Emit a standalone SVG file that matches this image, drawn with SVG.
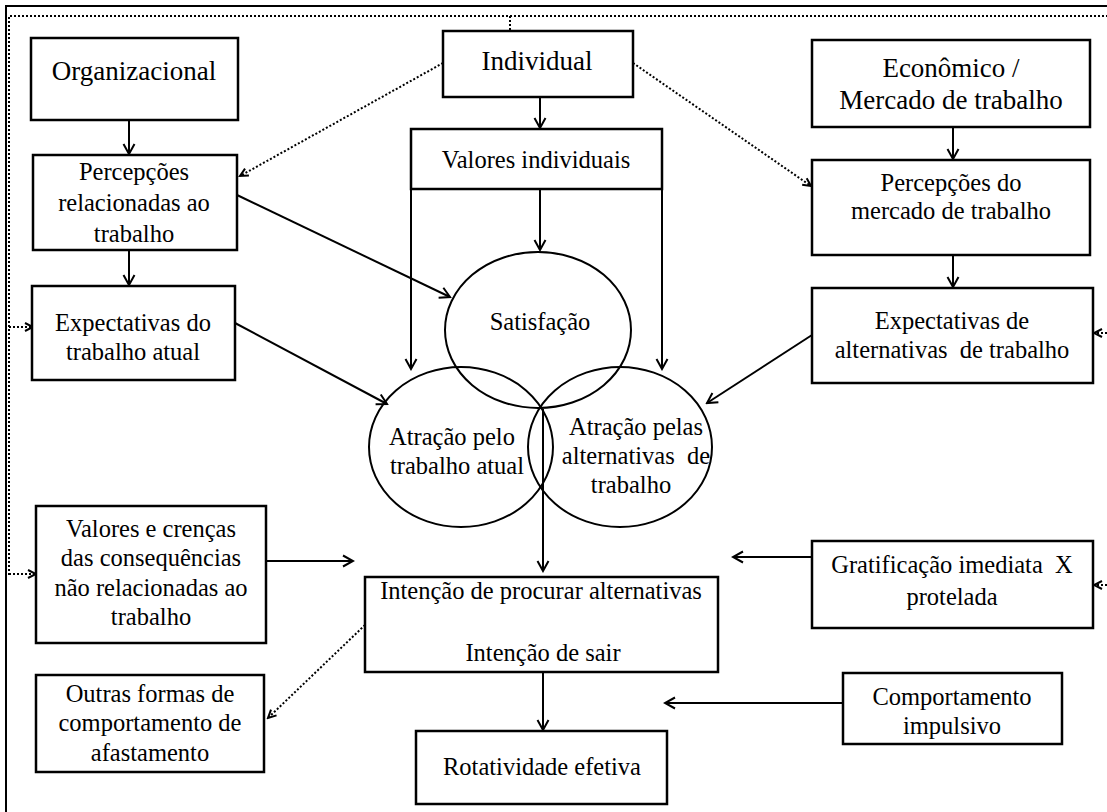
<svg xmlns="http://www.w3.org/2000/svg" width="1107" height="812" viewBox="0 0 1107 812">
  <defs>
    <marker id="arrow" markerUnits="userSpaceOnUse" markerWidth="14" markerHeight="14" viewBox="0 0 14 14" refX="12" refY="7" orient="auto">
      <path d="M2,1.5 L12,7 L2,12.5" fill="none" stroke="#000" stroke-width="2"/>
    </marker>
    <marker id="arrowSmall" markerUnits="userSpaceOnUse" markerWidth="12" markerHeight="12" viewBox="0 0 12 12" refX="10" refY="6" orient="auto">
      <path d="M2,2 L10,6 L2,10" fill="none" stroke="#000" stroke-width="2"/>
    </marker>
  </defs>
  <style>
    .box { fill: #fff; stroke: #000; stroke-width: 2.5; }
    .ell { fill: none; stroke: #000; stroke-width: 2; }
    .t { font-family: "Liberation Serif", "Times New Roman", serif; font-size: 24.5px; fill: #000; text-anchor: middle; }
    .big { font-size: 27px; }
    .line { fill: none; stroke: #000; stroke-width: 2; }
    .arr { fill: none; stroke: #000; stroke-width: 2; marker-end: url(#arrow); }
    .dot { fill: none; stroke: #000; stroke-width: 2; stroke-dasharray: 2 2; }
    .dotarr { fill: none; stroke: #000; stroke-width: 2; stroke-dasharray: 2 2; marker-end: url(#arrowSmall); }
  </style>
  <rect width="1107" height="812" fill="#fff"/>

  <!-- outer frame -->
  <g id="frame">
    <path class="line" d="M6,812 V6 H1107"/>
    <path class="dot" d="M9,575 V16 H1107"/>
  </g>

  <!-- connectors -->
  <g id="connectors">
    <path class="arr" d="M540,97 V128"/>
    <path class="arr" d="M129,120 V154"/>
    <path class="arr" d="M129,250 V285"/>
    <path class="arr" d="M953,127 V159"/>
    <path class="arr" d="M953,255 V287"/>
    <path class="arr" d="M540,189 V250"/>
    <path class="arr" d="M411,189 V369"/>
    <path class="arr" d="M662,189 V369"/>
    <path class="arr" d="M237,195 L450,297"/>
    <path class="arr" d="M235,323 L387,404"/>
    <path class="arr" d="M812,335 L707,403"/>
    <path class="arr" d="M543,409 V571"/>
    <path class="arr" d="M266,561 H353"/>
    <path class="arr" d="M812,557 H733"/>
    <path class="arr" d="M843,703 H665"/>
    <path class="arr" d="M543,672 V730"/>
    <!-- dotted influences -->
    <path class="dot" d="M510,16 V31"/>
    <path class="dotarr" d="M443,63 L240,176"/>
    <path class="dotarr" d="M633,63 L811,186"/>
    <path class="dotarr" d="M365,625 L268,718"/>
    <path class="dotarr" d="M9,327 H33"/>
    <path class="dotarr" d="M9,574 H36"/>
    <path class="dotarr" d="M1107,333 H1094"/>
    <path class="dotarr" d="M1107,585 H1094"/>
  </g>

  <g id="organizacional">
    <rect class="box" x="31" y="38" width="207" height="82"/>
    <text class="t big" x="134" y="80">Organizacional</text>
  </g>

  <g id="individual">
    <rect class="box" x="443" y="31" width="190" height="66"/>
    <text class="t big" x="537" y="70">Individual</text>
  </g>

  <g id="economico">
    <rect class="box" x="812" y="40" width="278" height="87"/>
    <text class="t big" x="951" y="77">Econômico /</text>
    <text class="t big" x="951" y="109">Mercado de trabalho</text>
  </g>

  <g id="percepcoes-trabalho">
    <rect class="box" x="33" y="155" width="204" height="95"/>
    <text class="t" x="134" y="180">Percepções</text>
    <text class="t" x="134" y="211">relacionadas ao</text>
    <text class="t" x="134" y="242">trabalho</text>
  </g>

  <g id="valores-individuais">
    <rect class="box" x="411" y="129" width="251" height="60"/>
    <text class="t" x="536" y="168">Valores individuais</text>
  </g>

  <g id="percepcoes-mercado">
    <rect class="box" x="812" y="160" width="278" height="95"/>
    <text class="t" x="951" y="191">Percepções do</text>
    <text class="t" x="951" y="219">mercado de trabalho</text>
  </g>

  <g id="expectativas-atual">
    <rect class="box" x="32" y="286" width="203" height="94"/>
    <text class="t" x="133" y="331">Expectativas do</text>
    <text class="t" x="133" y="360">trabalho atual</text>
  </g>

  <g id="expectativas-alternativas">
    <rect class="box" x="812" y="288" width="281" height="95"/>
    <text class="t" x="952" y="329">Expectativas de</text>
    <text class="t" x="952" y="358" xml:space="preserve">alternativas  de trabalho</text>
  </g>

  <g id="satisfacao">
    <ellipse class="ell" cx="538" cy="330" rx="93" ry="78"/>
    <text class="t" x="540" y="330">Satisfação</text>
  </g>

  <g id="atracao-atual">
    <ellipse class="ell" cx="461" cy="447" rx="92" ry="80"/>
    <text class="t" x="452" y="445">Atração pelo</text>
    <text class="t" x="457" y="474">trabalho atual</text>
  </g>

  <g id="atracao-alternativas">
    <ellipse class="ell" cx="620" cy="447" rx="92" ry="80"/>
    <text class="t" x="636" y="435">Atração pelas</text>
    <text class="t" x="636" y="464" xml:space="preserve">alternativas  de</text>
    <text class="t" x="631" y="493">trabalho</text>
  </g>

  <g id="valores-crencas">
    <rect class="box" x="36" y="506" width="230" height="137"/>
    <text class="t" x="151" y="537">Valores e crenças</text>
    <text class="t" x="151" y="566">das consequências</text>
    <text class="t" x="151" y="596">não relacionadas ao</text>
    <text class="t" x="151" y="625">trabalho</text>
  </g>

  <g id="intencao">
    <rect class="box" x="365" y="577" width="353" height="95"/>
    <text class="t" x="541" y="599">Intenção de procurar alternativas</text>
    <text class="t" x="543" y="661">Intenção de sair</text>
  </g>

  <g id="gratificacao">
    <rect class="box" x="812" y="541" width="281" height="87"/>
    <text class="t" x="952" y="573" xml:space="preserve">Gratificação imediata  X</text>
    <text class="t" x="952" y="605">protelada</text>
  </g>

  <g id="outras-formas">
    <rect class="box" x="36" y="675" width="228" height="97"/>
    <text class="t" x="150" y="702">Outras formas de</text>
    <text class="t" x="150" y="731">comportamento de</text>
    <text class="t" x="150" y="761">afastamento</text>
  </g>

  <g id="comportamento-impulsivo">
    <rect class="box" x="843" y="673" width="219" height="71"/>
    <text class="t" x="952" y="705">Comportamento</text>
    <text class="t" x="952" y="734">impulsivo</text>
  </g>

  <g id="rotatividade">
    <rect class="box" x="416" y="731" width="251" height="73"/>
    <text class="t" x="542" y="775">Rotatividade efetiva</text>
  </g>
</svg>
